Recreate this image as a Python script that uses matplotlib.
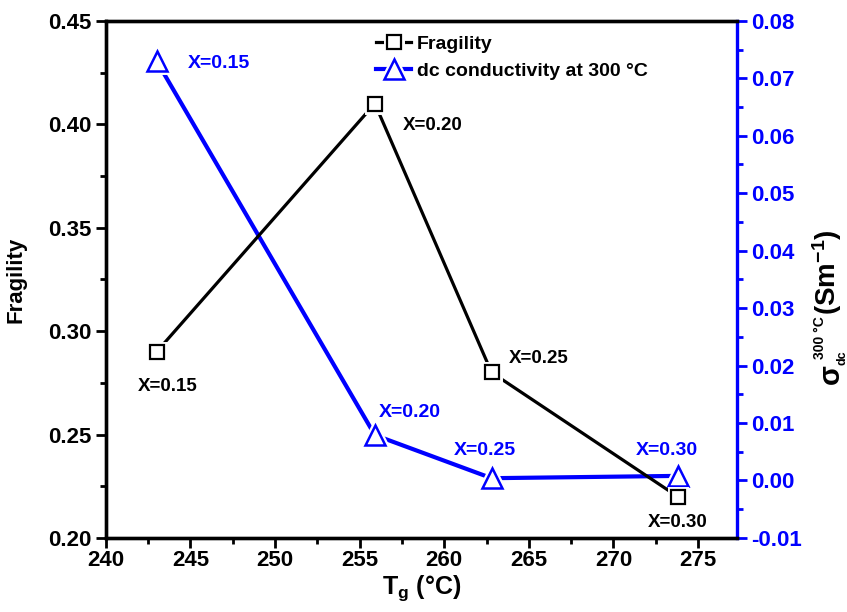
import matplotlib
matplotlib.use("Agg")
import matplotlib.pyplot as plt
from matplotlib.ticker import MultipleLocator
from matplotlib.legend_handler import HandlerTuple

plt.rcParams['font.family'] = ['Liberation Sans', 'DejaVu Sans']
plt.rcParams['font.weight'] = 'bold'
plt.rcParams['mathtext.fontset'] = 'custom'
plt.rcParams['mathtext.rm'] = 'Liberation Sans:bold'
plt.rcParams['mathtext.it'] = 'Liberation Sans:bold'
plt.rcParams['mathtext.bf'] = 'Liberation Sans:bold'
plt.rcParams['mathtext.sf'] = 'Liberation Sans:bold'

# Glass transition temperature (°C) for each composition
tg = [243.0, 255.9, 262.8, 273.8]
compositions = ['X=0.15', 'X=0.20', 'X=0.25', 'X=0.30']
fragility = [0.29, 0.41, 0.28, 0.22]
sigma_dc = [0.0730, 0.0079, 0.0004, 0.0008]

# label offsets (points) around each marker
frag_offsets = [(8, -25), (42, -16), (34, 10), (0, -19)]
sigma_offsets = [(45, -2), (25, 16), (-5, 20), (-8, 18)]

BLUE = '#0000ff'
W, H = 847, 612

fig = plt.figure(figsize=(W / 100, H / 100), dpi=100)
ax = fig.add_axes([0.125, 0.121, 0.745, 0.845])
ax2 = ax.twinx()
ax.set_zorder(2)
ax.patch.set_visible(False)
ax2.set_zorder(1)

# conductivity series (right axis)
l2, = ax2.plot(tg, sigma_dc, color=BLUE, lw=3.0, zorder=1)
h2, = ax2.plot(tg, sigma_dc, ls='none', marker='^', ms=14, mfc='white',
               mec='white', mew=5, zorder=2)
m2, = ax2.plot(tg, sigma_dc, ls='none', marker='^', ms=14, mfc='white',
               mec=BLUE, mew=1.8, zorder=3)

# fragility series (left axis)
l1, = ax.plot(tg, fragility, color='black', lw=2.3, zorder=1)
h1, = ax.plot(tg, fragility, ls='none', marker='s', ms=10, mfc='white',
              mec='white', mew=5, zorder=2)
m1, = ax.plot(tg, fragility, ls='none', marker='s', ms=10, mfc='white',
              mec='black', mew=1.6, zorder=3)

for x, y, lab, off in zip(tg, fragility, compositions, frag_offsets):
    ax.annotate(lab, (x, y), xytext=off, textcoords='offset points',
                ha='center', va='center', fontsize=13.5, fontweight='bold',
                color='black')
for x, y, lab, off in zip(tg, sigma_dc, compositions, sigma_offsets):
    ax2.annotate(lab, (x, y), xytext=off, textcoords='offset points',
                 ha='center', va='center', fontsize=14, fontweight='bold',
                 color=BLUE)

ax.set_xlim(240, 277.3)
ax.set_ylim(0.20, 0.45)
ax2.set_ylim(-0.01, 0.08)

ax.xaxis.set_major_locator(MultipleLocator(5))
ax.xaxis.set_minor_locator(MultipleLocator(2.5))
ax.yaxis.set_major_locator(MultipleLocator(0.05))
ax.yaxis.set_minor_locator(MultipleLocator(0.025))
ax2.yaxis.set_major_locator(MultipleLocator(0.01))
ax2.yaxis.set_minor_locator(MultipleLocator(0.005))

ax.tick_params(axis='both', which='major', direction='out', length=7,
               width=2, labelsize=16)
ax.tick_params(axis='both', which='minor', direction='out', length=4, width=2)
ax.tick_params(axis='x', pad=2)
ax.tick_params(top=False, right=False, which='both')
ax2.tick_params(axis='y', which='major', direction='out', length=7, width=2,
                colors=BLUE, labelsize=16)
ax2.tick_params(axis='y', which='minor', direction='out', length=4, width=2,
                colors=BLUE)

ax.set_xticks([240, 245, 250, 255, 260, 265, 270, 275])
ax.set_xticklabels(['240', '245', '250', '255', '260', '265', '270', '275'],
                   fontsize=16, fontweight='bold')
ax.set_yticks([0.20, 0.25, 0.30, 0.35, 0.40, 0.45])
ax.set_yticklabels(['0.20', '0.25', '0.30', '0.35', '0.40', '0.45'],
                   fontweight='bold')
ax2.set_yticks([-0.01, 0.0, 0.01, 0.02, 0.03, 0.04, 0.05, 0.06, 0.07, 0.08])
ax2.set_yticklabels(['-0.01', '0.00', '0.01', '0.02', '0.03', '0.04', '0.05',
                     '0.06', '0.07', '0.08'], fontweight='bold')

for name in ['left', 'bottom', 'top']:
    ax.spines[name].set_linewidth(2.4)
    ax2.spines[name].set_linewidth(2.4)
ax.spines['right'].set_visible(False)
ax2.spines['right'].set_linewidth(2.4)
ax2.spines['right'].set_color(BLUE)

ax.set_ylabel('Fragility', fontsize=16, fontweight='bold')
ax.yaxis.set_label_coords(-0.125, 0.5)
ax.set_xlabel(r'$\mathregular{T_g}$ (°C)', fontsize=18, fontweight='bold')
ax.xaxis.set_label_coords(0.5, -0.068)


def px_text(x, y, s, size):
    """Vertical label piece centred at pixel (x, y) from the top-left."""
    fig.text(x / W, 1 - y / H, s, rotation=90, ha='center', va='center',
             fontsize=size, fontweight='bold', color='black')


# right-hand axis title: sigma_dc^(300 °C) (Sm^-1), built from pieces
px_text(831, 374, 'σ', 21)
px_text(820, 338, '300 °C', 10)
px_text(842, 358, 'dc', 9)
px_text(827, 272, r'(Sm$^{-1}$)', 20)

leg = ax.legend([(l1, h1, m1), (l2, h2, m2)],
                ['Fragility', 'dc conductivity at 300 °C'],
                handler_map={tuple: HandlerTuple(ndivide=1, pad=0)},
                loc='upper left', bbox_to_anchor=(0.41, 0.995),
                frameon=False, fontsize=14, handlelength=1.8,
                handletextpad=0.3, labelspacing=0.5, borderaxespad=0.2)
for t in leg.get_texts():
    t.set_fontweight('bold')

fig.savefig('out.png', dpi=100)
